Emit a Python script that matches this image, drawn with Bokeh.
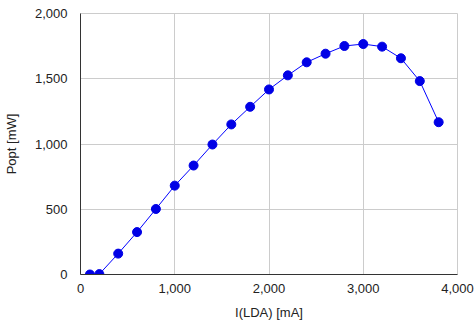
from bokeh.plotting import figure
from bokeh.models import Range1d, FixedTicker, NumeralTickFormatter
from bokeh.embed import file_html
from bokeh.resources import INLINE

current_ma = [100, 200, 400, 600, 800, 1000, 1200, 1400, 1600, 1800, 2000,
              2200, 2400, 2600, 2800, 3000, 3200, 3400, 3600, 3800]
power_mw = [0, 3, 160, 325, 502, 681, 835, 996, 1150, 1285, 1418,
            1526, 1626, 1692, 1751, 1766, 1746, 1657, 1482, 1167]
x_ticks = [0, 1000, 2000, 3000, 4000]
y_ticks = [0, 500, 1000, 1500, 2000]

FONT = "Liberation Sans"

p = figure(width=474, height=324, output_backend="svg", toolbar_location=None,
           x_range=Range1d(0, 4000), y_range=Range1d(0, 2000),
           min_border_left=79, min_border_right=17, min_border_top=13, min_border_bottom=50)
p.background_fill_color = "white"
p.border_fill_color = "white"
p.outline_line_color = "#cccccc"
p.outline_line_width = 1

p.line(current_ma, power_mw, line_color="#0000ff", line_width=1)
p.scatter(current_ma, power_mw, size=9, fill_color="#0000e6", line_color="#0000e6")

for ax in (p.xaxis[0], p.yaxis[0]):
    ax.axis_line_color = "#333333"
    ax.axis_line_width = 1
    ax.major_tick_line_color = None
    ax.minor_tick_line_color = None
    ax.major_label_text_font = FONT
    ax.major_label_text_font_size = "13px"
    ax.major_label_text_color = "#222222"
    ax.axis_label_text_font = FONT
    ax.axis_label_text_font_size = "13px"
    ax.axis_label_text_font_style = "normal"
    ax.axis_label_text_color = "#222222"
    ax.formatter = NumeralTickFormatter(format="0,0")

p.xaxis.ticker = FixedTicker(ticks=x_ticks)
p.yaxis.ticker = FixedTicker(ticks=y_ticks)
p.xaxis.axis_label = "I(LDA) [mA]"
p.yaxis.axis_label = "Popt [mW]"
p.xaxis.major_label_standoff = 3
p.yaxis.major_label_standoff = 7
p.xaxis.axis_label_standoff = 9
p.yaxis.axis_label_standoff = 13

p.grid.grid_line_color = "#cccccc"
p.grid.grid_line_width = 1

open("out.html", "w").write(file_html(p, INLINE))
